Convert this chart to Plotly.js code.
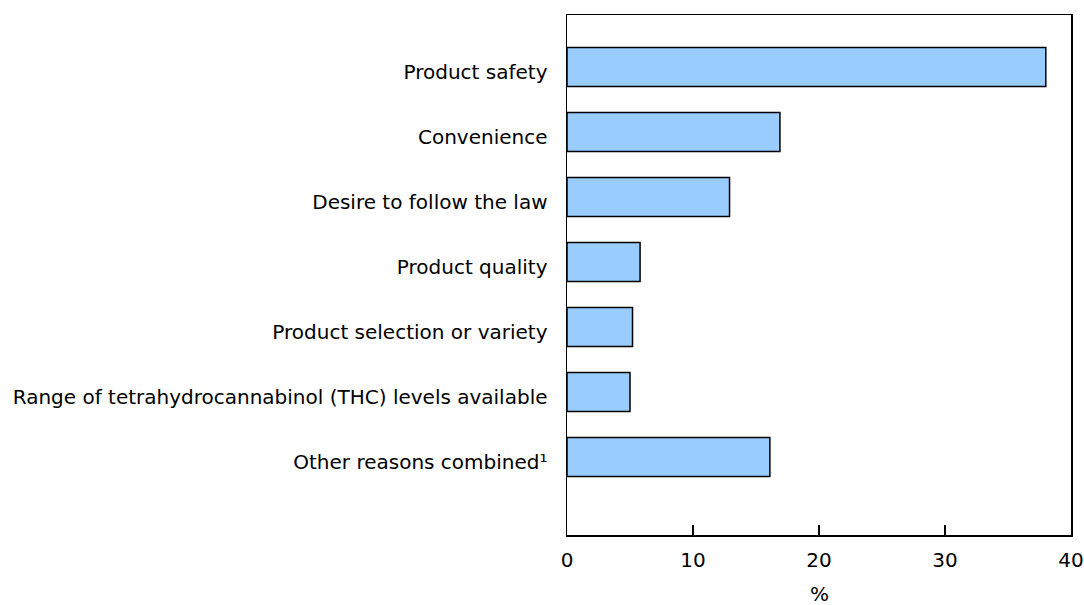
<!DOCTYPE html>
<html>
<head>
<meta charset="utf-8">
<script src="https://cdn.plot.ly/plotly-3.0.1.min.js"></script>
<style>
  html, body { margin: 0; padding: 0; background: #ffffff; }
  #chart { width: 1084px; height: 605px; }
</style>
</head>
<body>
<div id="chart"></div>
<script>
const categories = [
  "Product safety",
  "Convenience",
  "Desire to follow the law",
  "Product quality",
  "Product selection or variety",
  "Range of tetrahydrocannabinol (THC) levels available",
  "Other reasons combined\u00b9"
];
const values = [38.0, 16.9, 12.9, 5.8, 5.2, 5.0, 16.1];
const xTickVals = [0, 10, 20, 30, 40];
const xTickText = ["0", "10", "20", "30", "40"];
const xTitle = "%";

const FONT = "DejaVu Sans, Verdana, sans-serif";

const trace = {
  type: "bar",
  orientation: "h",
  x: values,
  y: categories,
  width: 0.6,
  marker: { color: "#99CCFF", line: { color: "#000000", width: 1.5 } },
  hoverinfo: "x+y"
};

const layout = {
  width: 1084,
  height: 605,
  margin: { l: 567, r: 13, t: 15, b: 70, pad: 0 },
  paper_bgcolor: "#ffffff",
  plot_bgcolor: "#ffffff",
  showlegend: false,
  font: { family: FONT, size: 20, color: "#000000" },
  xaxis: {
    range: [0, 40],
    tickvals: xTickVals,
    ticktext: xTickText,
    ticks: "inside",
    ticklen: 10,
    tickwidth: 1.5,
    tickcolor: "#000000",
    showgrid: false,
    zeroline: false,
    showline: true,
    linecolor: "#000000",
    linewidth: 1.5,
    mirror: true,
    ticklabelstandoff: 6,
    tickfont: { family: FONT, size: 20, color: "#000000" },
    fixedrange: true
  },
  yaxis: {
    type: "category",
    range: [7.2, -0.8],
    ticks: "",
    showgrid: false,
    zeroline: false,
    showline: true,
    linecolor: "#000000",
    linewidth: 1.5,
    mirror: true,
    ticklabelstandoff: 14,
    ticklabelshift: -5,
    tickfont: { family: FONT, size: 20, color: "#000000" },
    fixedrange: true
  },
  annotations: [{
    text: xTitle,
    xref: "paper",
    yref: "paper",
    x: 0.5,
    y: 0,
    xanchor: "center",
    yanchor: "middle",
    yshift: -59,
    showarrow: false,
    font: { family: FONT, size: 20, color: "#000000" }
  }]
};

Plotly.newPlot("chart", [trace], layout, { displayModeBar: false, staticPlot: true });
</script>
</body>
</html>
